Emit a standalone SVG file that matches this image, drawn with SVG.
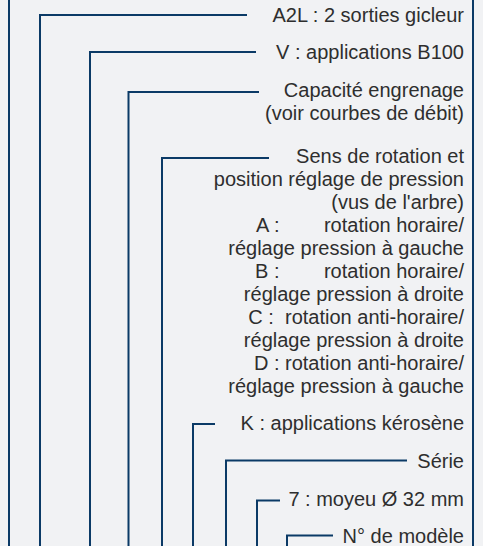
<svg xmlns="http://www.w3.org/2000/svg" width="483" height="546" viewBox="0 0 483 546">
<style>
.ln{fill:none;stroke:#0b3a66;stroke-width:2;stroke-linecap:butt;stroke-linejoin:miter}
.t{font-family:"Liberation Sans",Arial,sans-serif;font-size:20px;fill:#2e2e2e;text-anchor:end;white-space:pre}
</style>
<rect x="0" y="0" width="483" height="546" fill="#f1f2f4"/>
<g id="frame" class="ln">
<line x1="9" y1="0" x2="9" y2="546"/>
<line x1="473" y1="0" x2="473" y2="546"/>
</g>
<g id="connectors" class="ln">
<polyline points="40,546 40,15 247,15"/>
<polyline points="90,546 90,52 256,52"/>
<polyline points="128.5,546 128.5,92 259,92"/>
<polyline points="162,546 162,158 269,158"/>
<polyline points="193,546 193,424 215,424"/>
<polyline points="226,546 226,460.5 407,460.5"/>
<polyline points="257,546 257,500.5 280,500.5"/>
<polyline points="287,546 287,535.5 333,535.5"/>
</g>
<g id="n1"><text class="t" x="464" y="22">A2L : 2 sorties gicleur</text></g>
<g id="n2"><text class="t" x="464" y="59">V : applications B100</text></g>
<g id="n3"><text class="t" x="464" y="97">Capacité engrenage</text><text class="t" x="464" y="120">(voir courbes de débit)</text></g>
<g id="n4">
<text class="t" x="464" y="163">Sens de rotation et</text>
<text class="t" x="464" y="186">position réglage de pression</text>
<text class="t" x="464" y="209">(vus de l'arbre)</text>
<text class="t" x="464" y="232">A :        rotation horaire/</text>
<text class="t" x="464" y="255">réglage pression à gauche</text>
<text class="t" x="464" y="278">B :        rotation horaire/</text>
<text class="t" x="464" y="301">réglage pression à droite</text>
<text class="t" x="464" y="324">C :  rotation anti-horaire/</text>
<text class="t" x="464" y="347">réglage pression à droite</text>
<text class="t" x="464" y="370">D : rotation anti-horaire/</text>
<text class="t" x="464" y="393">réglage pression à gauche</text>
</g>
<g id="n5"><text class="t" x="464" y="430">K : applications kérosène</text></g>
<g id="n6"><text class="t" x="464" y="468">Série</text></g>
<g id="n7"><text class="t" x="464" y="506">7 : moyeu Ø 32 mm</text></g>
<g id="n8"><text class="t" x="464" y="543">N° de modèle</text></g>
</svg>
